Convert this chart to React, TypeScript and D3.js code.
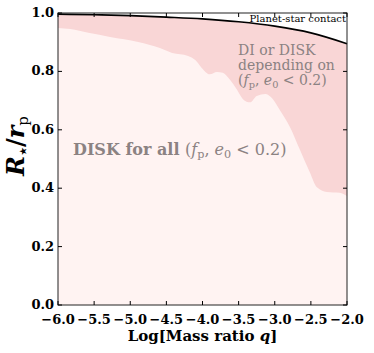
import React, { useEffect, useRef } from 'react'
import * as d3 from 'd3'

// log10 mass ratio vs R*/rp
const contactLogQ = [-6.0, -5.5, -5.0, -4.5, -4.0, -3.5, -3.0, -2.5, -2.0]
const contactR = [0.996, 0.994, 0.991, 0.986, 0.98, 0.97, 0.955, 0.932, 0.895]

const diskLogQ = [
  -6.0, -5.83, -5.58, -5.28, -4.89, -4.59, -4.42, -4.2, -4.1, -4.01, -3.9,
  -3.8, -3.72, -3.62, -3.52, -3.44, -3.34, -3.25, -3.13, -3.04, -2.93, -2.79,
  -2.65, -2.51, -2.42, -2.28, -2.1, -2.0,
]
const diskR = [
  0.949, 0.945, 0.932, 0.918, 0.901, 0.88, 0.863, 0.853, 0.839, 0.812, 0.79,
  0.798, 0.795, 0.771, 0.736, 0.705, 0.694, 0.716, 0.723, 0.709, 0.668, 0.61,
  0.531, 0.452, 0.404, 0.387, 0.384, 0.373,
]

const xTicks = [-6.0, -5.5, -5.0, -4.5, -4.0, -3.5, -3.0, -2.5, -2.0]
const yTicks = [0.0, 0.2, 0.4, 0.6, 0.8, 1.0]

const W = 374
const H = 353
const margin = { top: 13, right: 27, bottom: 48, left: 58 }
const serif = '"DejaVu Serif", "Liberation Serif", serif'

const App = () => {
  const svgRef = useRef(null)

  useEffect(() => {
    const svg = d3.select(svgRef.current)
    svg.selectAll('*').remove()

    const iw = W - margin.left - margin.right
    const ih = H - margin.top - margin.bottom

    const x = d3.scaleLinear().domain([-6, -2]).range([0, iw])
    const y = d3.scaleLinear().domain([0, 1]).range([ih, 0])

    const g = svg
      .append('g')
      .attr('transform', `translate(${margin.left},${margin.top})`)

    const contact = contactLogQ.map((q, i) => [q, contactR[i]])
    const disk = diskLogQ.map((q, i) => [q, diskR[i]])

    const area = d3
      .area()
      .x((d) => x(d[0]))
      .y0(y(0))
      .y1((d) => y(d[1]))
      .curve(d3.curveMonotoneX)

    // DI or DISK zone: everything below the contact line
    g.append('path').datum(contact).attr('d', area).attr('fill', '#f9d6d6')
    // DISK for all
    g.append('path').datum(disk).attr('d', area).attr('fill', '#fff3f2')

    const line = d3
      .line()
      .x((d) => x(d[0]))
      .y((d) => y(d[1]))
      .curve(d3.curveMonotoneX)

    g.append('path')
      .datum(contact)
      .attr('d', line)
      .attr('fill', 'none')
      .attr('stroke', '#000')
      .attr('stroke-width', 1.6)

    // frame
    g.append('rect')
      .attr('width', iw)
      .attr('height', ih)
      .attr('fill', 'none')
      .attr('stroke', '#222')
      .attr('stroke-width', 1)

    const tl = 4
    xTicks.forEach((t) => {
      g.append('line')
        .attr('x1', x(t)).attr('x2', x(t))
        .attr('y1', ih).attr('y2', ih - tl)
        .attr('stroke', '#000')
      g.append('line')
        .attr('x1', x(t)).attr('x2', x(t))
        .attr('y1', 0).attr('y2', tl)
        .attr('stroke', '#000')
      g.append('text')
        .attr('x', x(t))
        .attr('y', ih + 19)
        .attr('text-anchor', 'middle')
        .style('font-family', serif)
        .style('font-weight', 'bold')
        .style('font-size', '13px')
        .text(d3.format('.1f')(t).replace('-', '\u2212'))
    })
    yTicks.forEach((t) => {
      g.append('line')
        .attr('x1', 0).attr('x2', tl)
        .attr('y1', y(t)).attr('y2', y(t))
        .attr('stroke', '#000')
      g.append('line')
        .attr('x1', iw).attr('x2', iw - tl)
        .attr('y1', y(t)).attr('y2', y(t))
        .attr('stroke', '#000')
      g.append('text')
        .attr('x', -4)
        .attr('y', y(t) + 4)
        .attr('text-anchor', 'end')
        .style('font-family', serif)
        .style('font-weight', 'bold')
        .style('font-size', '13px')
        .text(d3.format('.1f')(t))
    })

    g.append('text')
      .attr('x', iw - 1)
      .attr('y', 9)
      .attr('text-anchor', 'end')
      .style('font-family', serif)
      .style('font-size', '10px')
      .attr('fill', '#000')
      .text('Planet-star contact')

    const grey = '#8b8282'
    const diLines = ['DI or DISK', 'depending on']
    diLines.forEach((s, i) => {
      g.append('text')
        .attr('x', 180)
        .attr('y', 42 + i * 15)
        .style('font-family', serif)
        .style('font-size', '14px')
        .attr('fill', grey)
        .text(s)
    })
    const cond = (sel) => {
      sel.append('tspan').text('(')
      sel.append('tspan').style('font-style', 'italic').text('f')
      sel.append('tspan').style('font-size', '0.7em').attr('dy', 3).text('p')
      sel.append('tspan').attr('dy', -3).text(', ')
      sel.append('tspan').style('font-style', 'italic').text('e')
      sel.append('tspan').style('font-size', '0.7em').attr('dy', 3).text('0')
      sel.append('tspan').attr('dy', -3).text(' < 0.2)')
    }
    const c1 = g
      .append('text')
      .attr('x', 180)
      .attr('y', 72)
      .style('font-family', serif)
      .style('font-size', '14px')
      .attr('fill', grey)
    cond(c1)

    const d1 = g
      .append('text')
      .attr('x', 15)
      .attr('y', 142)
      .style('font-family', serif)
      .style('font-size', '16px')
      .attr('fill', grey)
    d1.append('tspan').style('font-weight', 'bold').text('DISK for all ')
    cond(d1)

    // axis labels
    const xl = svg
      .append('text')
      .attr('x', margin.left + iw / 2)
      .attr('y', 341)
      .attr('text-anchor', 'middle')
      .style('font-family', serif)
      .style('font-weight', 'bold')
      .style('font-size', '15px')
    xl.append('tspan').text('Log[Mass ratio ')
    xl.append('tspan').style('font-style', 'italic').text('q')
    xl.append('tspan').text(']')

    const yl = svg
      .append('text')
      .attr('transform', `translate(24,146) rotate(-90)`)
      .attr('text-anchor', 'middle')
      .style('font-family', serif)
      .style('font-weight', 'bold')
      .style('font-size', '24px')
    yl.append('tspan').style('font-style', 'italic').text('R')
    yl.append('tspan').style('font-size', '15px').attr('dy', 4).text('\u22c6')
    yl.append('tspan').attr('dy', -4).text('/')
    yl.append('tspan').style('font-style', 'italic').text('r')
    yl.append('tspan')
      .style('font-size', '15px')
      .style('font-weight', 'normal')
      .attr('dy', 4)
      .text('p')
  }, [])

  return (
    <svg
      ref={svgRef}
      width={W}
      height={H}
      style={{ position: 'absolute', left: 0, top: 0, background: '#fff' }}
    />
  )
}

export default App
